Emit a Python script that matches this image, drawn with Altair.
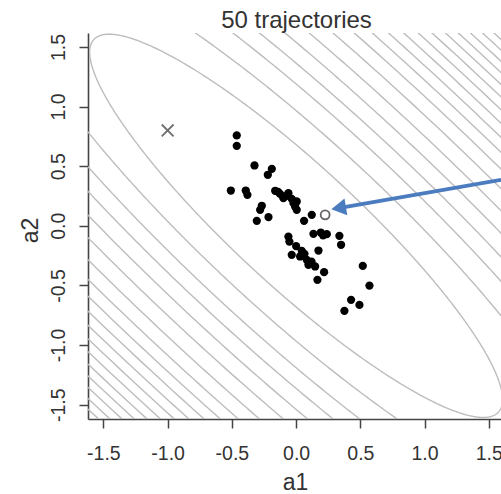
import altair as alt
import numpy as np
import pandas as pd

# ---------------- data ----------------
title_text = "50 trajectories"
x_title = "a1"
y_title = "a2"
tick_values = [-1.5, -1.0, -0.5, 0.0, 0.5, 1.0, 1.5]

# end points of the 50 trajectories
a1_pts = [-0.462, -0.462, -0.324, -0.189, -0.220, -0.508, -0.392, -0.379, -0.163, -0.125,
          -0.060, -0.099, -0.034, 0.005, -0.008, 0.005, -0.267, -0.280, -0.306, -0.215,
          0.122, 0.062, -0.060, -0.052, 0.135, 0.192, 0.239, 0.337, 0.350, -0.034,
          0.044, 0.031, 0.083, 0.096, 0.174, 0.148, 0.218, 0.166, 0.519, 0.571,
          0.428, 0.493, 0.376, -0.140, -0.020, 0.000, 0.065, 0.120, 0.210, -0.080]
a2_pts = [0.758, 0.671, 0.506, 0.478, 0.428, 0.296, 0.296, 0.260, 0.294, 0.268,
          0.274, 0.232, 0.226, 0.204, 0.162, 0.134, 0.168, 0.134, 0.042, 0.073,
          0.092, 0.042, -0.090, -0.132, -0.067, -0.056, -0.070, -0.084, -0.159, -0.243,
          -0.210, -0.257, -0.285, -0.327, -0.207, -0.341, -0.389, -0.453, -0.336, -0.501,
          -0.621, -0.663, -0.713, 0.285, 0.190, -0.170, -0.235, -0.300, -0.080, 0.250]

start_a1 = [-1.0]
start_a2 = [0.8]
mean_a1 = [0.226]
mean_a2 = [0.092]

# contour ellipses: semi-minor radius of each level (along a1=a2),
# and ratio of major to minor axis
contour_r = [0.493, 0.700, 0.862, 0.988, 1.115, 1.239, 1.363, 1.475, 1.571, 1.658,
             1.740, 1.819, 1.894, 1.967, 2.037, 2.104, 2.170, 2.233, 2.295, 2.355]
axis_ratio = 4.5

# arrow (from the right edge toward the open circle)
arrow_a1 = [1.595, 0.331]
arrow_a2 = [0.386, 0.149]
head_a1 = [0.331]
head_a2 = [0.149]

# ---------------- build tables ----------------
t = np.linspace(0, 2 * np.pi, 721)
frames = []
for k, r in enumerate(contour_r):
    u = r * np.cos(t)
    v = axis_ratio * r * np.sin(t)
    frames.append(pd.DataFrame({
        "a1": (u + v) / np.sqrt(2),
        "a2": (u - v) / np.sqrt(2),
        "level": k,
        "i": np.arange(len(t)),
    }))
contours = pd.concat(frames, ignore_index=True)

pts = pd.DataFrame({"a1": a1_pts, "a2": a2_pts})
start = pd.DataFrame({"a1": start_a1, "a2": start_a2})
mean = pd.DataFrame({"a1": mean_a1, "a2": mean_a2})
arrow = pd.DataFrame({"a1": arrow_a1, "a2": arrow_a2, "i": [0, 1]})
head = pd.DataFrame({"a1": head_a1, "a2": head_a2})
title_df = pd.DataFrame({"label": [title_text]})

FONT = "Liberation Sans"
TXT = "#333333"
label_expr = "datum.value < 0 ? '-' + format(-datum.value, '.1f') : format(datum.value, '.1f')"

xscale = alt.Scale(domain=[-1.62, 1.595], nice=False, zero=False)
yscale = alt.Scale(domain=[-1.62, 1.617], nice=False, zero=False)

xaxis = alt.Axis(values=tick_values, labelExpr=label_expr, grid=False,
                 tickSize=9, tickWidth=1.5, tickColor="#444", domainColor="#444",
                 domainWidth=1.6, labelFont=FONT, labelFontSize=19.5, labelColor=TXT,
                 labelBaseline="alphabetic", labelPadding=31, labelFlush=False,
                 title=x_title, titleFont=FONT, titleFontSize=23, titleColor=TXT,
                 titleFontWeight="normal", titleBaseline="alphabetic",
                 titleX=207, titleY=70, titleAlign="center")
yaxis = alt.Axis(values=tick_values, labelExpr=label_expr, grid=False,
                 tickSize=9, tickWidth=1.5, tickColor="#444", domainColor="#444",
                 domainWidth=1.6, labelFont=FONT, labelFontSize=19.5, labelColor=TXT,
                 labelAngle=270, labelAlign="center", labelBaseline="alphabetic",
                 labelPadding=15, labelFlush=False,
                 title=y_title, titleFont=FONT, titleFontSize=23, titleColor=TXT,
                 titleFontWeight="normal", titleAngle=270, titleBaseline="alphabetic",
                 titleAlign="center", titleX=-51, titleY=197)

X = alt.X("a1:Q", scale=xscale, axis=xaxis)
Y = alt.Y("a2:Q", scale=yscale, axis=yaxis)

contour_layer = alt.Chart(contours).mark_line(
    clip=True, color="#bdbdbd", strokeWidth=1.4
).encode(x=X, y=Y, detail="level:N", order="i:Q")

pts_layer = alt.Chart(pts).mark_circle(
    color="black", size=68, opacity=1
).encode(x=X, y=Y)

start_layer = alt.Chart(start).mark_point(
    shape="M-1,-1L1,1M1,-1L-1,1", filled=False, color="#333", strokeWidth=1.8, size=140
).encode(x=X, y=Y)

mean_layer = alt.Chart(mean).mark_point(
    shape="circle", filled=True, fill="white", stroke="#666", strokeWidth=1.8,
    size=80, opacity=1
).encode(x=X, y=Y)

arrow_layer = alt.Chart(arrow).mark_line(
    color="#4a7cbf", strokeWidth=3.8, clip=True
).encode(x=X, y=Y, order="i:Q")

head_layer = alt.Chart(head).mark_point(
    shape="triangle-left", filled=True, color="#4a7cbf", size=290, angle=350.6, opacity=1
).encode(x=X, y=Y)

title_layer = alt.Chart(title_df).mark_text(
    font=FONT, fontSize=24, color=TXT, align="center", baseline="alphabetic"
).encode(x=alt.value(208.5), y=alt.value(-5), text="label:N")

chart = alt.layer(
    contour_layer, pts_layer, start_layer, mean_layer, arrow_layer, head_layer, title_layer
).properties(
    width=413, height=386,
    padding={"left": 88, "top": 33, "right": 0, "bottom": 75},
    autosize=alt.AutoSizeParams(type="none"),
    background="white",
).configure_view(stroke=None)

chart.save("out.html", embed_options={"renderer": "svg", "actions": False})
